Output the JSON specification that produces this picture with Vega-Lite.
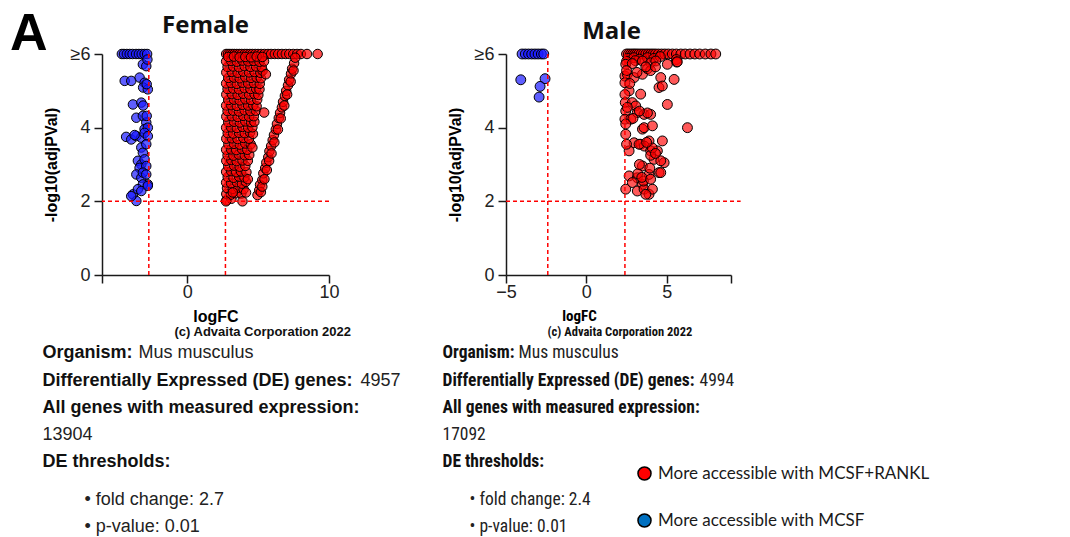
{
  "$schema": "https://vega.github.io/schema/vega-lite/v6.json",
  "padding": {"left": 10, "top": 8, "right": 5, "bottom": 0},
  "title": {"text": "A", "anchor": "start", "frame": "group", "font": "Liberation Sans", "fontSize": 52, "fontWeight": "bold", "color": "#000", "dx": -92, "offset": -47},
  "config": {
    "view": {"stroke": null},
    "axis": {"domainColor": "#1a1a1a", "domainWidth": 1.5, "tickColor": "#1a1a1a", "tickWidth": 1.5, "tickSize": 8, "grid": false, "labelFlush": false, "labelFont": "Liberation Sans", "labelFontSize": 18, "labelColor": "#222", "titleFont": "Liberation Sans", "titleFontSize": 16, "titleFontWeight": "bold", "titleColor": "#000"},
    "axisX": {"labelPadding": 0},
    "axisY": {"labelPadding": 4},
    "title": {"font": "Open Sans", "fontSize": 24, "fontWeight": "bold", "color": "#111"}
  },
  "datasets": {
    "femaleUp": [
      {"logFC": 2.75, "mlog10p": 6}, {"logFC": 2.88, "mlog10p": 6}, {"logFC": 3.02, "mlog10p": 6}, {"logFC": 3.18, "mlog10p": 6}, {"logFC": 3.33, "mlog10p": 6}, {"logFC": 3.5, "mlog10p": 6}, {"logFC": 3.68, "mlog10p": 6}, {"logFC": 3.85, "mlog10p": 6}, {"logFC": 4.05, "mlog10p": 6}, {"logFC": 4.22, "mlog10p": 6}, {"logFC": 4.42, "mlog10p": 6}, {"logFC": 4.6, "mlog10p": 6}, {"logFC": 4.8, "mlog10p": 6}, {"logFC": 5.0, "mlog10p": 6}, {"logFC": 5.22, "mlog10p": 6}, {"logFC": 5.45, "mlog10p": 6}, {"logFC": 5.7, "mlog10p": 6}, {"logFC": 5.92, "mlog10p": 6}, {"logFC": 6.18, "mlog10p": 6}, {"logFC": 6.42, "mlog10p": 6}, {"logFC": 6.68, "mlog10p": 6}, {"logFC": 6.95, "mlog10p": 6}, {"logFC": 7.2, "mlog10p": 6}, {"logFC": 7.48, "mlog10p": 6}, {"logFC": 7.75, "mlog10p": 6}, {"logFC": 8.02, "mlog10p": 6}, {"logFC": 8.45, "mlog10p": 6}, {"logFC": 9.2, "mlog10p": 6},
      {"logFC": 2.78, "mlog10p": 2.03}, {"logFC": 3.12, "mlog10p": 2.07}, {"logFC": 2.76, "mlog10p": 2.2}, {"logFC": 3.07, "mlog10p": 2.18}, {"logFC": 3.44, "mlog10p": 2.22}, {"logFC": 3.82, "mlog10p": 2.21},
      {"logFC": 2.81, "mlog10p": 2.36}, {"logFC": 3.22, "mlog10p": 2.34}, {"logFC": 3.6, "mlog10p": 2.37}, {"logFC": 3.98, "mlog10p": 2.33},
      {"logFC": 2.75, "mlog10p": 2.51}, {"logFC": 3.1, "mlog10p": 2.49}, {"logFC": 3.5, "mlog10p": 2.52}, {"logFC": 3.86, "mlog10p": 2.48}, {"logFC": 4.14, "mlog10p": 2.53},
      {"logFC": 2.86, "mlog10p": 2.66}, {"logFC": 3.27, "mlog10p": 2.64}, {"logFC": 3.66, "mlog10p": 2.67}, {"logFC": 4.04, "mlog10p": 2.65},
      {"logFC": 2.75, "mlog10p": 2.8}, {"logFC": 3.1, "mlog10p": 2.82}, {"logFC": 3.46, "mlog10p": 2.79}, {"logFC": 3.8, "mlog10p": 2.81}, {"logFC": 4.18, "mlog10p": 2.79},
      {"logFC": 2.9, "mlog10p": 2.95}, {"logFC": 3.31, "mlog10p": 2.97}, {"logFC": 3.7, "mlog10p": 2.94}, {"logFC": 4.1, "mlog10p": 2.96},
      {"logFC": 2.76, "mlog10p": 3.1}, {"logFC": 3.11, "mlog10p": 3.12}, {"logFC": 3.49, "mlog10p": 3.09}, {"logFC": 3.9, "mlog10p": 3.11}, {"logFC": 4.28, "mlog10p": 3.1},
      {"logFC": 2.85, "mlog10p": 3.25}, {"logFC": 3.26, "mlog10p": 3.24}, {"logFC": 3.64, "mlog10p": 3.27}, {"logFC": 4.06, "mlog10p": 3.25}, {"logFC": 4.38, "mlog10p": 3.26},
      {"logFC": 2.75, "mlog10p": 3.4}, {"logFC": 3.1, "mlog10p": 3.41}, {"logFC": 3.46, "mlog10p": 3.39}, {"logFC": 3.86, "mlog10p": 3.42}, {"logFC": 4.24, "mlog10p": 3.4},
      {"logFC": 2.91, "mlog10p": 3.55}, {"logFC": 3.3, "mlog10p": 3.56}, {"logFC": 3.71, "mlog10p": 3.54}, {"logFC": 4.1, "mlog10p": 3.57}, {"logFC": 4.48, "mlog10p": 3.55},
      {"logFC": 2.76, "mlog10p": 3.7}, {"logFC": 3.15, "mlog10p": 3.71}, {"logFC": 3.55, "mlog10p": 3.69}, {"logFC": 3.96, "mlog10p": 3.72}, {"logFC": 4.36, "mlog10p": 3.7},
      {"logFC": 2.86, "mlog10p": 3.85}, {"logFC": 3.25, "mlog10p": 3.84}, {"logFC": 3.66, "mlog10p": 3.86}, {"logFC": 4.06, "mlog10p": 3.85}, {"logFC": 4.44, "mlog10p": 3.87}, {"logFC": 4.64, "mlog10p": 3.83},
      {"logFC": 2.75, "mlog10p": 4.0}, {"logFC": 3.1, "mlog10p": 4.01}, {"logFC": 3.5, "mlog10p": 3.99}, {"logFC": 3.9, "mlog10p": 4.02}, {"logFC": 4.3, "mlog10p": 4.0}, {"logFC": 4.6, "mlog10p": 4.01},
      {"logFC": 2.9, "mlog10p": 4.15}, {"logFC": 3.3, "mlog10p": 4.16}, {"logFC": 3.71, "mlog10p": 4.14}, {"logFC": 4.1, "mlog10p": 4.17}, {"logFC": 4.5, "mlog10p": 4.15}, {"logFC": 4.74, "mlog10p": 4.16},
      {"logFC": 2.76, "mlog10p": 4.3}, {"logFC": 3.15, "mlog10p": 4.31}, {"logFC": 3.56, "mlog10p": 4.29}, {"logFC": 3.95, "mlog10p": 4.32}, {"logFC": 4.36, "mlog10p": 4.3}, {"logFC": 4.7, "mlog10p": 4.31},
      {"logFC": 2.85, "mlog10p": 4.45}, {"logFC": 3.25, "mlog10p": 4.46}, {"logFC": 3.65, "mlog10p": 4.44}, {"logFC": 4.05, "mlog10p": 4.47}, {"logFC": 4.46, "mlog10p": 4.45}, {"logFC": 4.84, "mlog10p": 4.46},
      {"logFC": 2.75, "mlog10p": 4.6}, {"logFC": 3.1, "mlog10p": 4.61}, {"logFC": 3.5, "mlog10p": 4.59}, {"logFC": 3.9, "mlog10p": 4.62}, {"logFC": 4.3, "mlog10p": 4.6}, {"logFC": 4.66, "mlog10p": 4.61}, {"logFC": 4.9, "mlog10p": 4.58},
      {"logFC": 2.9, "mlog10p": 4.75}, {"logFC": 3.3, "mlog10p": 4.76}, {"logFC": 3.7, "mlog10p": 4.74}, {"logFC": 4.1, "mlog10p": 4.77}, {"logFC": 4.5, "mlog10p": 4.75}, {"logFC": 4.94, "mlog10p": 4.76},
      {"logFC": 2.76, "mlog10p": 4.9}, {"logFC": 3.15, "mlog10p": 4.91}, {"logFC": 3.56, "mlog10p": 4.89}, {"logFC": 3.95, "mlog10p": 4.92}, {"logFC": 4.36, "mlog10p": 4.9}, {"logFC": 4.75, "mlog10p": 4.91}, {"logFC": 5.02, "mlog10p": 4.89},
      {"logFC": 2.85, "mlog10p": 5.05}, {"logFC": 3.25, "mlog10p": 5.06}, {"logFC": 3.65, "mlog10p": 5.04}, {"logFC": 4.05, "mlog10p": 5.07}, {"logFC": 4.46, "mlog10p": 5.05}, {"logFC": 4.86, "mlog10p": 5.06}, {"logFC": 5.1, "mlog10p": 5.04},
      {"logFC": 2.75, "mlog10p": 5.2}, {"logFC": 3.1, "mlog10p": 5.21}, {"logFC": 3.5, "mlog10p": 5.19}, {"logFC": 3.9, "mlog10p": 5.22}, {"logFC": 4.3, "mlog10p": 5.2}, {"logFC": 4.7, "mlog10p": 5.21}, {"logFC": 5.12, "mlog10p": 5.19},
      {"logFC": 2.9, "mlog10p": 5.35}, {"logFC": 3.3, "mlog10p": 5.36}, {"logFC": 3.7, "mlog10p": 5.34}, {"logFC": 4.1, "mlog10p": 5.37}, {"logFC": 4.5, "mlog10p": 5.35}, {"logFC": 4.9, "mlog10p": 5.36}, {"logFC": 5.2, "mlog10p": 5.34},
      {"logFC": 2.76, "mlog10p": 5.5}, {"logFC": 3.15, "mlog10p": 5.51}, {"logFC": 3.56, "mlog10p": 5.49}, {"logFC": 3.95, "mlog10p": 5.52}, {"logFC": 4.36, "mlog10p": 5.5}, {"logFC": 4.75, "mlog10p": 5.51}, {"logFC": 5.16, "mlog10p": 5.49}, {"logFC": 5.32, "mlog10p": 5.55},
      {"logFC": 2.85, "mlog10p": 5.65}, {"logFC": 3.25, "mlog10p": 5.66}, {"logFC": 3.65, "mlog10p": 5.64}, {"logFC": 4.05, "mlog10p": 5.67}, {"logFC": 4.46, "mlog10p": 5.65}, {"logFC": 4.86, "mlog10p": 5.66}, {"logFC": 5.26, "mlog10p": 5.64},
      {"logFC": 2.75, "mlog10p": 5.8}, {"logFC": 3.1, "mlog10p": 5.81}, {"logFC": 3.5, "mlog10p": 5.79}, {"logFC": 3.9, "mlog10p": 5.82}, {"logFC": 4.3, "mlog10p": 5.8}, {"logFC": 4.7, "mlog10p": 5.81}, {"logFC": 5.1, "mlog10p": 5.79}, {"logFC": 5.42, "mlog10p": 5.8},
      {"logFC": 2.9, "mlog10p": 5.92}, {"logFC": 3.3, "mlog10p": 5.93}, {"logFC": 3.7, "mlog10p": 5.91}, {"logFC": 4.1, "mlog10p": 5.92}, {"logFC": 4.5, "mlog10p": 5.91}, {"logFC": 4.9, "mlog10p": 5.93}, {"logFC": 5.3, "mlog10p": 5.92},
      {"logFC": 3.9, "mlog10p": 2.0}, {"logFC": 3.22, "mlog10p": 2.24}, {"logFC": 4.15, "mlog10p": 2.24}, {"logFC": 2.74, "mlog10p": 2.0}, {"logFC": 4.6, "mlog10p": 3.46}, {"logFC": 5.55, "mlog10p": 5.45}, {"logFC": 5.43, "mlog10p": 4.41}, {"logFC": 4.28, "mlog10p": 2.6},
      {"logFC": 4.96, "mlog10p": 2.17}, {"logFC": 5.08, "mlog10p": 2.3}, {"logFC": 5.14, "mlog10p": 2.45}, {"logFC": 5.3, "mlog10p": 2.58}, {"logFC": 5.37, "mlog10p": 2.76}, {"logFC": 5.5, "mlog10p": 2.9}, {"logFC": 5.58, "mlog10p": 3.05}, {"logFC": 5.72, "mlog10p": 3.2}, {"logFC": 5.8, "mlog10p": 3.36}, {"logFC": 5.92, "mlog10p": 3.5}, {"logFC": 6.03, "mlog10p": 3.66}, {"logFC": 6.12, "mlog10p": 3.8}, {"logFC": 6.25, "mlog10p": 3.95}, {"logFC": 6.33, "mlog10p": 4.1}, {"logFC": 6.46, "mlog10p": 4.26}, {"logFC": 6.55, "mlog10p": 4.4}, {"logFC": 6.68, "mlog10p": 4.55}, {"logFC": 6.76, "mlog10p": 4.7}, {"logFC": 6.89, "mlog10p": 4.86}, {"logFC": 6.98, "mlog10p": 5.0}, {"logFC": 7.11, "mlog10p": 5.15}, {"logFC": 7.19, "mlog10p": 5.3}, {"logFC": 7.32, "mlog10p": 5.46}, {"logFC": 7.4, "mlog10p": 5.6}, {"logFC": 7.54, "mlog10p": 5.75}, {"logFC": 7.62, "mlog10p": 5.9},
      {"logFC": 5.2, "mlog10p": 2.25}, {"logFC": 5.3, "mlog10p": 2.4}, {"logFC": 5.45, "mlog10p": 2.6}, {"logFC": 5.62, "mlog10p": 2.85}, {"logFC": 5.78, "mlog10p": 3.1}, {"logFC": 5.95, "mlog10p": 3.3}, {"logFC": 6.15, "mlog10p": 3.6}, {"logFC": 6.4, "mlog10p": 3.95}, {"logFC": 6.6, "mlog10p": 4.25}, {"logFC": 6.85, "mlog10p": 4.6}, {"logFC": 7.05, "mlog10p": 4.9}, {"logFC": 7.3, "mlog10p": 5.25}, {"logFC": 7.5, "mlog10p": 5.55}
    ],
    "femaleDown": [
      {"logFC": -4.6, "mlog10p": 6}, {"logFC": -4.45, "mlog10p": 6}, {"logFC": -4.25, "mlog10p": 6}, {"logFC": -4.05, "mlog10p": 6}, {"logFC": -3.85, "mlog10p": 6}, {"logFC": -3.6, "mlog10p": 6}, {"logFC": -3.4, "mlog10p": 6}, {"logFC": -3.2, "mlog10p": 6}, {"logFC": -3.0, "mlog10p": 6}, {"logFC": -2.82, "mlog10p": 6},
      {"logFC": -3.12, "mlog10p": 5.72}, {"logFC": -2.88, "mlog10p": 5.67}, {"logFC": -2.8, "mlog10p": 5.85},
      {"logFC": -4.4, "mlog10p": 5.27}, {"logFC": -3.94, "mlog10p": 5.27}, {"logFC": -3.35, "mlog10p": 5.36}, {"logFC": -3.0, "mlog10p": 5.22}, {"logFC": -3.1, "mlog10p": 5.09}, {"logFC": -2.77, "mlog10p": 5.04}, {"logFC": -2.85, "mlog10p": 5.18},
      {"logFC": -3.82, "mlog10p": 4.63}, {"logFC": -3.23, "mlog10p": 4.68}, {"logFC": -3.1, "mlog10p": 4.6},
      {"logFC": -3.58, "mlog10p": 4.27}, {"logFC": -3.12, "mlog10p": 4.32}, {"logFC": -2.88, "mlog10p": 4.14}, {"logFC": -3.0, "mlog10p": 3.96}, {"logFC": -2.77, "mlog10p": 4.0}, {"logFC": -2.85, "mlog10p": 4.32},
      {"logFC": -4.3, "mlog10p": 3.75}, {"logFC": -3.94, "mlog10p": 3.68}, {"logFC": -3.58, "mlog10p": 3.77}, {"logFC": -3.23, "mlog10p": 3.73}, {"logFC": -3.0, "mlog10p": 3.86}, {"logFC": -2.77, "mlog10p": 3.77}, {"logFC": -3.7, "mlog10p": 3.8},
      {"logFC": -3.23, "mlog10p": 3.46}, {"logFC": -3.12, "mlog10p": 3.32}, {"logFC": -2.88, "mlog10p": 3.55},
      {"logFC": -3.47, "mlog10p": 3.1}, {"logFC": -3.23, "mlog10p": 3.0}, {"logFC": -3.0, "mlog10p": 3.14}, {"logFC": -3.35, "mlog10p": 2.91}, {"logFC": -2.88, "mlog10p": 2.96},
      {"logFC": -3.58, "mlog10p": 2.73}, {"logFC": -3.23, "mlog10p": 2.64}, {"logFC": -2.77, "mlog10p": 2.46}, {"logFC": -3.12, "mlog10p": 2.78}, {"logFC": -2.88, "mlog10p": 2.73}, {"logFC": -3.12, "mlog10p": 2.46},
      {"logFC": -3.82, "mlog10p": 2.19}, {"logFC": -3.47, "mlog10p": 2.33}, {"logFC": -3.23, "mlog10p": 2.28}, {"logFC": -3.58, "mlog10p": 2.01}, {"logFC": -3.94, "mlog10p": 2.14}, {"logFC": -2.77, "mlog10p": 2.42}
    ],
    "maleUp": [
      {"logFC": 2.5, "mlog10p": 6}, {"logFC": 2.62, "mlog10p": 6}, {"logFC": 2.75, "mlog10p": 6}, {"logFC": 2.88, "mlog10p": 6}, {"logFC": 3.0, "mlog10p": 6}, {"logFC": 3.12, "mlog10p": 6}, {"logFC": 3.25, "mlog10p": 6}, {"logFC": 3.4, "mlog10p": 6}, {"logFC": 3.55, "mlog10p": 6}, {"logFC": 3.7, "mlog10p": 6}, {"logFC": 3.85, "mlog10p": 6}, {"logFC": 4.0, "mlog10p": 6}, {"logFC": 4.15, "mlog10p": 6}, {"logFC": 4.3, "mlog10p": 6}, {"logFC": 4.48, "mlog10p": 6}, {"logFC": 4.68, "mlog10p": 6}, {"logFC": 4.88, "mlog10p": 6}, {"logFC": 5.1, "mlog10p": 6}, {"logFC": 5.35, "mlog10p": 6}, {"logFC": 5.6, "mlog10p": 6}, {"logFC": 5.88, "mlog10p": 6}, {"logFC": 6.15, "mlog10p": 6}, {"logFC": 6.45, "mlog10p": 6}, {"logFC": 6.75, "mlog10p": 6}, {"logFC": 7.05, "mlog10p": 6}, {"logFC": 7.4, "mlog10p": 6}, {"logFC": 7.75, "mlog10p": 6}, {"logFC": 8.05, "mlog10p": 6},
      {"logFC": 2.6, "mlog10p": 5.88}, {"logFC": 2.95, "mlog10p": 5.9}, {"logFC": 3.3, "mlog10p": 5.86}, {"logFC": 3.8, "mlog10p": 5.9}, {"logFC": 4.2, "mlog10p": 5.88}, {"logFC": 4.6, "mlog10p": 5.93}, {"logFC": 5.6, "mlog10p": 5.85}, {"logFC": 5.62, "mlog10p": 5.78}, {"logFC": 2.5, "mlog10p": 5.8}, {"logFC": 3.05, "mlog10p": 5.82},
      {"logFC": 2.45, "mlog10p": 5.72}, {"logFC": 2.86, "mlog10p": 5.74}, {"logFC": 3.49, "mlog10p": 5.81}, {"logFC": 4.0, "mlog10p": 5.76}, {"logFC": 4.32, "mlog10p": 5.81}, {"logFC": 5.04, "mlog10p": 5.72}, {"logFC": 5.66, "mlog10p": 5.79},
      {"logFC": 2.4, "mlog10p": 5.4}, {"logFC": 2.55, "mlog10p": 5.45}, {"logFC": 2.97, "mlog10p": 5.36}, {"logFC": 3.49, "mlog10p": 5.45}, {"logFC": 3.8, "mlog10p": 5.6}, {"logFC": 4.0, "mlog10p": 5.55}, {"logFC": 4.63, "mlog10p": 5.36}, {"logFC": 5.46, "mlog10p": 5.31},
      {"logFC": 2.4, "mlog10p": 5.22}, {"logFC": 2.66, "mlog10p": 5.0}, {"logFC": 2.4, "mlog10p": 4.9}, {"logFC": 4.52, "mlog10p": 5.09}, {"logFC": 4.73, "mlog10p": 5.13}, {"logFC": 3.38, "mlog10p": 4.91}, {"logFC": 5.04, "mlog10p": 4.63},
      {"logFC": 2.42, "mlog10p": 4.68}, {"logFC": 2.86, "mlog10p": 4.68}, {"logFC": 3.07, "mlog10p": 4.59}, {"logFC": 2.45, "mlog10p": 4.45}, {"logFC": 3.17, "mlog10p": 4.41}, {"logFC": 3.59, "mlog10p": 4.36}, {"logFC": 4.0, "mlog10p": 4.36}, {"logFC": 3.8, "mlog10p": 4.4},
      {"logFC": 2.4, "mlog10p": 4.23}, {"logFC": 2.76, "mlog10p": 4.23}, {"logFC": 3.49, "mlog10p": 3.96}, {"logFC": 3.59, "mlog10p": 4.0}, {"logFC": 4.11, "mlog10p": 4.05}, {"logFC": 6.29, "mlog10p": 4.0},
      {"logFC": 2.45, "mlog10p": 3.82}, {"logFC": 2.97, "mlog10p": 3.59}, {"logFC": 3.38, "mlog10p": 3.55}, {"logFC": 3.9, "mlog10p": 3.64}, {"logFC": 4.73, "mlog10p": 3.64}, {"logFC": 3.6, "mlog10p": 3.5},
      {"logFC": 2.66, "mlog10p": 3.37}, {"logFC": 3.28, "mlog10p": 3.55}, {"logFC": 4.0, "mlog10p": 3.37}, {"logFC": 4.42, "mlog10p": 3.37}, {"logFC": 4.21, "mlog10p": 3.14}, {"logFC": 4.84, "mlog10p": 3.05}, {"logFC": 3.49, "mlog10p": 2.96}, {"logFC": 3.9, "mlog10p": 2.73}, {"logFC": 4.52, "mlog10p": 2.78}, {"logFC": 2.66, "mlog10p": 2.69}, {"logFC": 3.17, "mlog10p": 2.64}, {"logFC": 2.86, "mlog10p": 2.51}, {"logFC": 3.49, "mlog10p": 2.46}, {"logFC": 2.45, "mlog10p": 2.33}, {"logFC": 3.17, "mlog10p": 2.28}, {"logFC": 3.59, "mlog10p": 2.33}, {"logFC": 3.9, "mlog10p": 2.19}, {"logFC": 4.11, "mlog10p": 2.33}, {"logFC": 3.7, "mlog10p": 2.19}, {"logFC": 4.63, "mlog10p": 3.1}, {"logFC": 4.63, "mlog10p": 2.78},
      {"logFC": 3.2, "mlog10p": 2.75}, {"logFC": 3.55, "mlog10p": 2.55}, {"logFC": 3.3, "mlog10p": 3.0}, {"logFC": 4.0, "mlog10p": 3.25}, {"logFC": 4.1, "mlog10p": 3.45}, {"logFC": 4.3, "mlog10p": 3.3}, {"logFC": 3.75, "mlog10p": 3.6}, {"logFC": 2.9, "mlog10p": 4.25}, {"logFC": 3.3, "mlog10p": 4.45}, {"logFC": 3.15, "mlog10p": 5.5}, {"logFC": 3.7, "mlog10p": 5.65}, {"logFC": 4.3, "mlog10p": 5.65}, {"logFC": 2.5, "mlog10p": 5.55}, {"logFC": 2.7, "mlog10p": 5.2}, {"logFC": 2.55, "mlog10p": 4.55}, {"logFC": 2.45, "mlog10p": 4.1}, {"logFC": 2.5, "mlog10p": 3.55}, {"logFC": 3.95, "mlog10p": 2.9}, {"logFC": 3.45, "mlog10p": 2.65}, {"logFC": 4.0, "mlog10p": 2.6}
    ],
    "maleDown": [
      {"logFC": -4.0, "mlog10p": 6}, {"logFC": -3.8, "mlog10p": 6}, {"logFC": -3.6, "mlog10p": 6}, {"logFC": -3.4, "mlog10p": 6}, {"logFC": -3.2, "mlog10p": 6}, {"logFC": -3.0, "mlog10p": 6}, {"logFC": -2.8, "mlog10p": 6}, {"logFC": -2.65, "mlog10p": 6},
      {"logFC": -4.08, "mlog10p": 5.3}, {"logFC": -2.57, "mlog10p": 5.33}, {"logFC": -2.88, "mlog10p": 5.12}, {"logFC": -2.94, "mlog10p": 4.83}
    ],
    "femaleFC": [{"logFC": -2.7}, {"logFC": 2.7}],
    "maleFC": [{"logFC": -2.4}, {"logFC": 2.4}],
    "femaleP": [{"mlog10p": 2}],
    "maleP": [{"mlog10p": 2, "fromFC": -5, "toFC": 9.6}],
    "femaleInfo": [
      {"row": 0, "kind": "copyright", "text": "(c) Advaita Corporation 2022"},
      {"row": 1, "kind": "label", "text": "Organism:"},
      {"row": 1, "kind": "value1", "text": "Mus musculus"},
      {"row": 2, "kind": "label", "text": "Differentially Expressed (DE) genes:"},
      {"row": 2, "kind": "value2", "text": "4957"},
      {"row": 3, "kind": "label", "text": "All genes with measured expression:"},
      {"row": 4, "kind": "plain", "text": "13904"},
      {"row": 5, "kind": "label", "text": "DE thresholds:"},
      {"row": 6, "kind": "bullet", "text": "• fold change: 2.7"},
      {"row": 7, "kind": "bullet", "text": "• p-value: 0.01"}
    ],
    "maleInfo": [
      {"row": 0, "kind": "copyright", "text": "(c) Advaita Corporation 2022"},
      {"row": 1, "kind": "label", "text": "Organism:"},
      {"row": 1, "kind": "value1", "text": "Mus musculus"},
      {"row": 2, "kind": "label", "text": "Differentially Expressed (DE) genes:"},
      {"row": 2, "kind": "value2", "text": "4994"},
      {"row": 3, "kind": "label", "text": "All genes with measured expression:"},
      {"row": 4, "kind": "plain", "text": "17092"},
      {"row": 5, "kind": "label", "text": "DE thresholds:"},
      {"row": 6, "kind": "bullet", "text": "• fold change: 2.4"},
      {"row": 7, "kind": "bullet", "text": "• p-value: 0.01"}
    ],
    "legendItems": [
      {"group": "More accessible with MCSF+RANKL"},
      {"group": "More accessible with MCSF"}
    ]
  },
  "spacing": 2,
  "vconcat": [
    {
      "hconcat": [
        {
          "width": 227, "height": 221,
          "title": {"text": "Female", "dx": -10, "offset": 7},
          "layer": [
            {"data": {"name": "femaleUp"}, "mark": {"type": "point", "filled": true, "fill": "#ff0000", "fillOpacity": 0.7, "stroke": "#000", "strokeWidth": 1, "size": 90},
             "encoding": {
               "x": {"field": "logFC", "type": "quantitative", "scale": {"domain": [-6, 10], "nice": false, "zero": false}, "axis": {"values": [-6, 0, 10], "labelExpr": "datum.value == -6 ? '' : datum.label", "title": "logFC", "titlePadding": 7}},
               "y": {"field": "mlog10p", "type": "quantitative", "scale": {"domain": [0, 6], "nice": false}, "axis": {"values": [0, 2, 4, 6], "labelExpr": "datum.value == 6 ? '≥6' : datum.label", "title": "-log10(adjPVal)", "titlePadding": 11}}
             }},
            {"data": {"name": "femaleDown"}, "mark": {"type": "point", "filled": true, "fill": "#1a1aff", "fillOpacity": 0.7, "stroke": "#000", "strokeWidth": 1, "size": 90},
             "encoding": {"x": {"field": "logFC", "type": "quantitative"}, "y": {"field": "mlog10p", "type": "quantitative"}}},
            {"data": {"name": "femaleFC"}, "mark": {"type": "rule", "color": "#ff0000", "strokeDash": [4, 3], "strokeWidth": 1.5},
             "encoding": {"x": {"field": "logFC", "type": "quantitative"}}},
            {"data": {"name": "femaleP"}, "mark": {"type": "rule", "color": "#ff0000", "strokeDash": [4, 3], "strokeWidth": 1.5},
             "encoding": {"y": {"field": "mlog10p", "type": "quantitative"}}}
          ]
        },
        {
          "width": 225, "height": 221,
          "title": {"text": "Male", "dx": -7, "offset": 1},
          "layer": [
            {"data": {"name": "maleUp"}, "mark": {"type": "point", "filled": true, "fill": "#ff0000", "fillOpacity": 0.65, "stroke": "#000", "strokeWidth": 1, "size": 98},
             "encoding": {
               "x": {"field": "logFC", "type": "quantitative", "scale": {"domain": [-5, 9], "nice": false, "zero": false}, "axis": {"values": [-5, 0, 5, 9], "labelExpr": "datum.value == 9 ? '' : datum.label", "title": "logFC", "titlePadding": 7, "titleX": 73, "titleFont": "Roboto Condensed, Noto Sans Condensed, Liberation Sans", "titleFontSize": 15}},
               "y": {"field": "mlog10p", "type": "quantitative", "scale": {"domain": [0, 6], "nice": false}, "axis": {"values": [0, 2, 4, 6], "labelExpr": "datum.value == 6 ? '≥6' : datum.label", "title": "-log10(adjPVal)", "titlePadding": 11}}
             }},
            {"data": {"name": "maleDown"}, "mark": {"type": "point", "filled": true, "fill": "#1a1aff", "fillOpacity": 0.7, "stroke": "#000", "strokeWidth": 1, "size": 98},
             "encoding": {"x": {"field": "logFC", "type": "quantitative"}, "y": {"field": "mlog10p", "type": "quantitative"}}},
            {"data": {"name": "maleFC"}, "mark": {"type": "rule", "color": "#ff0000", "strokeDash": [4, 3], "strokeWidth": 1.5},
             "encoding": {"x": {"field": "logFC", "type": "quantitative"}}},
            {"data": {"name": "maleP"}, "mark": {"type": "rule", "color": "#ff0000", "strokeDash": [4, 3], "strokeWidth": 1.5},
             "encoding": {"y": {"field": "mlog10p", "type": "quantitative"}, "x": {"field": "fromFC", "type": "quantitative"}, "x2": {"field": "toFC"}}}
          ]
        }
      ],
      "bounds": "flush",
      "spacing": 177
    },
    {
      "hconcat": [
        {
          "width": 1, "height": 191,
          "data": {"name": "femaleInfo"},
          "layer": [
            {"transform": [{"filter": "datum.kind == 'copyright'"}], "mark": {"type": "text", "align": "left", "baseline": "middle", "font": "Liberation Sans", "fontSize": 13, "fontWeight": "bold", "color": "#111", "dx": 72, "dy": 6},
             "encoding": {"y": {"field": "row", "type": "ordinal", "axis": null, "scale": {"type": "point", "padding": 0}}, "text": {"field": "text"}}},
            {"transform": [{"filter": "datum.kind == 'label'"}], "mark": {"type": "text", "align": "left", "baseline": "middle", "font": "Liberation Sans", "fontSize": 18, "fontWeight": "bold", "color": "#111", "dx": -60},
             "encoding": {"y": {"field": "row", "type": "ordinal", "axis": null}, "text": {"field": "text"}}},
            {"transform": [{"filter": "datum.kind == 'value1'"}], "mark": {"type": "text", "align": "left", "baseline": "middle", "font": "Liberation Sans", "fontSize": 18, "color": "#222", "dx": 36},
             "encoding": {"y": {"field": "row", "type": "ordinal", "axis": null}, "text": {"field": "text"}}},
            {"transform": [{"filter": "datum.kind == 'value2'"}], "mark": {"type": "text", "align": "left", "baseline": "middle", "font": "Liberation Sans", "fontSize": 18, "color": "#222", "dx": 258},
             "encoding": {"y": {"field": "row", "type": "ordinal", "axis": null}, "text": {"field": "text"}}},
            {"transform": [{"filter": "datum.kind == 'plain'"}], "mark": {"type": "text", "align": "left", "baseline": "middle", "font": "Liberation Sans", "fontSize": 18, "color": "#222", "dx": -60},
             "encoding": {"y": {"field": "row", "type": "ordinal", "axis": null}, "text": {"field": "text"}}},
            {"transform": [{"filter": "datum.kind == 'bullet'"}], "mark": {"type": "text", "align": "left", "baseline": "middle", "font": "Liberation Sans", "fontSize": 18, "color": "#222", "dx": -18, "dy": 10},
             "encoding": {"y": {"field": "row", "type": "ordinal", "axis": null}, "text": {"field": "text"}}}
          ]
        },
        {
          "width": 1, "height": 191,
          "layer": [
            {"data": {"name": "maleInfo"}, "transform": [{"filter": "datum.kind == 'copyright'"}], "mark": {"type": "text", "align": "left", "baseline": "middle", "font": "Roboto Condensed, Noto Sans Condensed, Liberation Sans", "fontSize": 12.5, "fontWeight": "bold", "color": "#111", "dx": 45, "dy": 6},
             "encoding": {"y": {"field": "row", "type": "ordinal", "axis": null, "scale": {"type": "point", "padding": 0}}, "text": {"field": "text"}}},
            {"data": {"name": "maleInfo"}, "transform": [{"filter": "datum.kind == 'label'"}], "mark": {"type": "text", "align": "left", "baseline": "middle", "font": "Roboto Condensed, Noto Sans Condensed, Liberation Sans", "fontSize": 17.5, "fontWeight": "bold", "color": "#111", "dx": -60},
             "encoding": {"y": {"field": "row", "type": "ordinal", "axis": null}, "text": {"field": "text"}}},
            {"data": {"name": "maleInfo"}, "transform": [{"filter": "datum.kind == 'value1'"}], "mark": {"type": "text", "align": "left", "baseline": "middle", "font": "Roboto Condensed, Noto Sans Condensed, Liberation Sans", "fontSize": 17.5, "color": "#222", "dx": 16},
             "encoding": {"y": {"field": "row", "type": "ordinal", "axis": null}, "text": {"field": "text"}}},
            {"data": {"name": "maleInfo"}, "transform": [{"filter": "datum.kind == 'value2'"}], "mark": {"type": "text", "align": "left", "baseline": "middle", "font": "Roboto Condensed, Noto Sans Condensed, Liberation Sans", "fontSize": 17.5, "color": "#222", "dx": 197},
             "encoding": {"y": {"field": "row", "type": "ordinal", "axis": null}, "text": {"field": "text"}}},
            {"data": {"name": "maleInfo"}, "transform": [{"filter": "datum.kind == 'plain'"}], "mark": {"type": "text", "align": "left", "baseline": "middle", "font": "Roboto Condensed, Noto Sans Condensed, Liberation Sans", "fontSize": 17.5, "color": "#222", "dx": -60},
             "encoding": {"y": {"field": "row", "type": "ordinal", "axis": null}, "text": {"field": "text"}}},
            {"data": {"name": "maleInfo"}, "transform": [{"filter": "datum.kind == 'bullet'"}], "mark": {"type": "text", "align": "left", "baseline": "middle", "font": "Roboto Condensed, Noto Sans Condensed, Liberation Sans", "fontSize": 17.5, "color": "#222", "dx": -33, "dy": 10},
             "encoding": {"y": {"field": "row", "type": "ordinal", "axis": null}, "text": {"field": "text"}}},
            {"data": {"name": "legendItems"}, "mark": {"type": "point", "filled": true, "size": 0},
             "encoding": {"fill": {"field": "group", "type": "nominal",
               "scale": {"domain": ["More accessible with MCSF+RANKL", "More accessible with MCSF"], "range": ["#ff0000", "#0070c0"]},
               "legend": {"orient": "none", "legendX": 534, "legendY": 411, "title": null, "symbolType": "circle", "symbolSize": 170, "symbolStrokeColor": "#000", "symbolStrokeWidth": 1.5, "symbolOpacity": 1, "labelFont": "Lato", "labelFontSize": 17, "labelColor": "#1a1a1a", "labelOffset": 5, "rowPadding": 26, "labelLimit": 0}}}}
          ]
        }
      ],
      "bounds": "flush",
      "spacing": 399
    }
  ]
}
